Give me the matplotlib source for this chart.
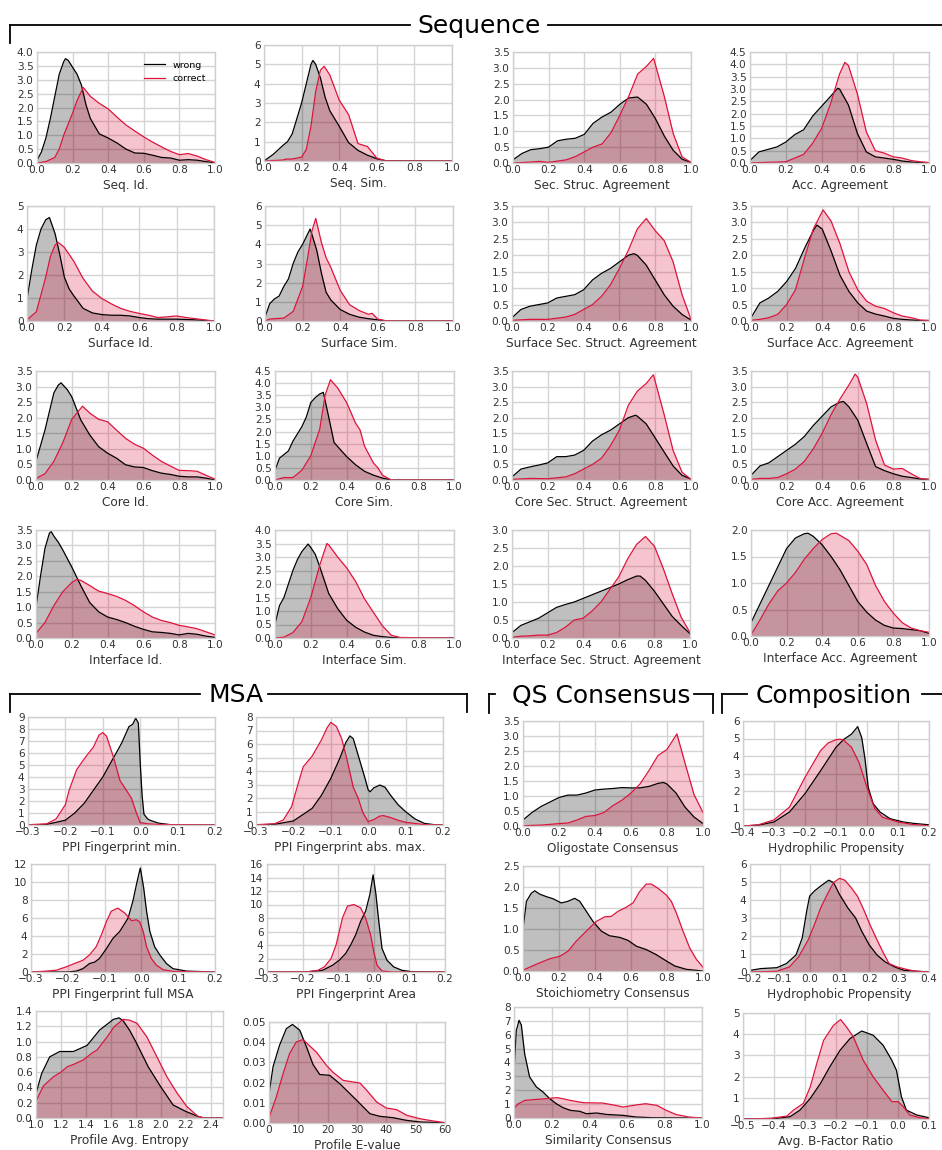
import numpy as np
import matplotlib.pyplot as plt
from matplotlib.lines import Line2D

# density curves, one list of (x, density) per feature and model class

# --- Sequence ---
seq_id_wrong = [(0, 0.1), (0.025, 0.4), (0.05, 0.9), (0.075, 1.6), (0.1, 2.4), (0.125, 3.2), (0.15, 3.65),
                (0.16, 3.76), (0.175, 3.7), (0.2, 3.45), (0.225, 3.2), (0.25, 2.8), (0.275, 2.1), (0.3, 1.6),
                (0.35, 1.05), (0.4, 0.9), (0.45, 0.72), (0.5, 0.5), (0.55, 0.36), (0.6, 0.35), (0.65, 0.28),
                (0.7, 0.2), (0.75, 0.18), (0.8, 0.1), (0.85, 0.12), (0.9, 0.1), (0.95, 0.05), (1.0, 0.0)]
seq_id_correct = [(0, 0), (0.05, 0.05), (0.1, 0.2), (0.125, 0.5), (0.15, 1.0), (0.175, 1.4), (0.2, 1.8),
                  (0.225, 2.25), (0.26, 2.72), (0.3, 2.4), (0.35, 2.15), (0.4, 1.95), (0.45, 1.65), (0.5, 1.37),
                  (0.55, 1.15), (0.6, 0.94), (0.65, 0.75), (0.7, 0.58), (0.75, 0.42), (0.8, 0.3), (0.85, 0.34),
                  (0.9, 0.25), (0.95, 0.12), (1.0, 0.02)]

seq_sim_wrong = [(0, 0), (0.05, 0.35), (0.1, 0.8), (0.125, 1.0), (0.15, 1.4), (0.2, 3.0), (0.225, 4.0),
                 (0.25, 5.0), (0.26, 5.2), (0.275, 5.0), (0.3, 4.3), (0.325, 3.3), (0.35, 2.6), (0.4, 1.8),
                 (0.45, 0.95), (0.5, 0.55), (0.55, 0.3), (0.6, 0.12), (0.65, 0.01), (1.0, 0)]
seq_sim_correct = [(0, 0), (0.1, 0.05), (0.12, 0.1), (0.15, 0.1), (0.2, 0.2), (0.225, 0.6), (0.25, 1.8),
                   (0.275, 3.6), (0.3, 4.7), (0.32, 4.9), (0.35, 4.45), (0.4, 3.15), (0.45, 2.4), (0.5, 0.9),
                   (0.55, 0.75), (0.6, 0.15), (0.65, 0.0), (1.0, 0)]

sec_struc_wrong = [(0, 0.1), (0.05, 0.3), (0.1, 0.42), (0.15, 0.45), (0.2, 0.5), (0.25, 0.7), (0.3, 0.75),
                   (0.35, 0.78), (0.4, 0.9), (0.45, 1.25), (0.5, 1.45), (0.55, 1.6), (0.6, 1.85), (0.65, 2.05),
                   (0.7, 2.08), (0.75, 1.85), (0.8, 1.4), (0.85, 0.85), (0.9, 0.4), (0.95, 0.12), (1.0, 0.02)]
sec_struc_correct = [(0, 0), (0.1, 0.03), (0.15, 0.05), (0.2, 0.02), (0.3, 0.1), (0.35, 0.2), (0.4, 0.35),
                     (0.45, 0.5), (0.5, 0.6), (0.55, 0.95), (0.6, 1.5), (0.65, 2.1), (0.7, 2.8), (0.75, 3.05),
                     (0.79, 3.3), (0.85, 2.1), (0.9, 0.93), (0.95, 0.19), (1.0, 0.02)]

acc_wrong = [(0, 0.1), (0.05, 0.45), (0.1, 0.55), (0.15, 0.65), (0.2, 0.85), (0.25, 1.15), (0.3, 1.35),
             (0.35, 1.9), (0.4, 2.3), (0.45, 2.7), (0.49, 3.03), (0.5, 3.0), (0.55, 2.35), (0.6, 1.2),
             (0.65, 0.45), (0.7, 0.25), (0.75, 0.2), (0.8, 0.15), (0.85, 0.08), (0.9, 0.04), (1.0, 0)]
acc_correct = [(0, 0), (0.1, 0.03), (0.2, 0.05), (0.25, 0.2), (0.3, 0.35), (0.35, 0.8), (0.4, 1.4),
               (0.45, 2.4), (0.5, 3.6), (0.53, 4.08), (0.55, 3.95), (0.6, 2.8), (0.65, 1.26), (0.7, 0.5),
               (0.75, 0.4), (0.8, 0.25), (0.85, 0.2), (0.9, 0.1), (0.95, 0.05), (1.0, 0.02)]

surf_id_wrong = [(0, 0.95), (0.025, 2.2), (0.05, 3.3), (0.075, 4.0), (0.1, 4.4), (0.12, 4.5), (0.15, 3.8),
                 (0.175, 2.9), (0.2, 1.9), (0.225, 1.4), (0.25, 1.1), (0.3, 0.55), (0.35, 0.35), (0.4, 0.28),
                 (0.45, 0.25), (0.5, 0.25), (0.55, 0.22), (0.6, 0.15), (0.65, 0.1), (0.7, 0.08), (0.8, 0.08),
                 (0.9, 0.05), (1.0, 0)]
surf_id_correct = [(0, 0.05), (0.05, 0.4), (0.1, 1.9), (0.125, 2.8), (0.15, 3.3), (0.167, 3.42), (0.2, 3.2),
                   (0.25, 2.6), (0.3, 1.85), (0.35, 1.3), (0.4, 0.98), (0.45, 0.75), (0.5, 0.55), (0.55, 0.42),
                   (0.6, 0.33), (0.65, 0.25), (0.7, 0.15), (0.75, 0.18), (0.8, 0.22), (0.85, 0.15), (0.9, 0.1),
                   (0.95, 0.05), (1.0, 0)]

surf_sim_wrong = [(0, 0.2), (0.025, 0.9), (0.05, 1.15), (0.075, 1.3), (0.1, 1.8), (0.125, 2.2), (0.15, 3.0),
                  (0.175, 3.6), (0.2, 4.0), (0.225, 4.5), (0.24, 4.8), (0.25, 4.5), (0.275, 3.7), (0.3, 2.5),
                  (0.325, 1.5), (0.35, 1.1), (0.4, 0.6), (0.45, 0.35), (0.5, 0.2), (0.55, 0.12), (0.6, 0.06),
                  (0.65, 0), (1.0, 0)]
surf_sim_correct = [(0, 0), (0.025, 0.1), (0.05, 0.12), (0.1, 0.15), (0.15, 0.5), (0.2, 1.8), (0.225, 3.2),
                    (0.25, 4.7), (0.27, 5.35), (0.3, 4.1), (0.325, 3.3), (0.35, 2.8), (0.4, 1.6), (0.45, 0.85),
                    (0.5, 0.55), (0.55, 0.35), (0.57, 0.4), (0.6, 0.1), (0.65, 0), (1.0, 0)]

surf_sec_wrong = [(0, 0.1), (0.05, 0.35), (0.1, 0.45), (0.15, 0.5), (0.2, 0.55), (0.25, 0.7), (0.3, 0.75),
                  (0.35, 0.8), (0.4, 0.95), (0.45, 1.25), (0.5, 1.45), (0.55, 1.6), (0.6, 1.8), (0.65, 2.0),
                  (0.68, 2.05), (0.7, 2.0), (0.75, 1.7), (0.8, 1.25), (0.85, 0.8), (0.9, 0.45), (0.95, 0.2),
                  (1.0, 0.03)]
surf_sec_correct = [(0, 0.02), (0.1, 0.05), (0.2, 0.05), (0.3, 0.12), (0.35, 0.2), (0.4, 0.35), (0.45, 0.5),
                    (0.5, 0.75), (0.55, 1.1), (0.6, 1.6), (0.65, 2.15), (0.7, 2.8), (0.75, 3.12), (0.8, 2.75),
                    (0.85, 2.45), (0.9, 1.8), (0.95, 0.8), (1.0, 0.05)]

surf_acc_wrong = [(0, 0.1), (0.05, 0.55), (0.1, 0.7), (0.15, 0.9), (0.2, 1.2), (0.25, 1.6), (0.3, 2.2),
                  (0.35, 2.75), (0.37, 2.92), (0.4, 2.8), (0.45, 2.13), (0.5, 1.39), (0.55, 0.9), (0.6, 0.55),
                  (0.65, 0.3), (0.7, 0.21), (0.75, 0.15), (0.8, 0.08), (0.85, 0.05), (0.9, 0.03), (1.0, 0)]
surf_acc_correct = [(0, 0.02), (0.05, 0.05), (0.1, 0.1), (0.15, 0.2), (0.2, 0.5), (0.25, 0.95), (0.3, 1.9),
                    (0.35, 2.8), (0.405, 3.38), (0.45, 3.04), (0.5, 2.35), (0.55, 1.5), (0.6, 0.95), (0.65, 0.6),
                    (0.7, 0.45), (0.75, 0.38), (0.8, 0.25), (0.85, 0.15), (0.9, 0.1), (0.95, 0.03), (1.0, 0.02)]

core_id_wrong = [(0, 0.6), (0.025, 1.1), (0.05, 1.6), (0.075, 2.2), (0.1, 2.8), (0.125, 3.05), (0.14, 3.12),
                 (0.175, 2.9), (0.2, 2.67), (0.25, 1.93), (0.3, 1.45), (0.35, 1.07), (0.4, 0.86), (0.45, 0.7),
                 (0.5, 0.49), (0.55, 0.42), (0.6, 0.4), (0.65, 0.3), (0.7, 0.22), (0.75, 0.18), (0.8, 0.12),
                 (0.85, 0.1), (0.9, 0.1), (0.95, 0.06), (1.0, 0)]
core_id_correct = [(0, 0.05), (0.05, 0.2), (0.1, 0.6), (0.15, 1.2), (0.2, 1.95), (0.26, 2.37), (0.3, 2.15),
                   (0.35, 1.95), (0.4, 1.87), (0.45, 1.6), (0.5, 1.34), (0.55, 1.15), (0.6, 1.02), (0.65, 0.8),
                   (0.7, 0.6), (0.75, 0.45), (0.8, 0.31), (0.85, 0.3), (0.9, 0.28), (0.95, 0.15), (1.0, 0.03)]

core_sim_wrong = [(0, 0.4), (0.025, 0.9), (0.05, 1.05), (0.075, 1.2), (0.1, 1.6), (0.125, 1.9), (0.15, 2.2),
                  (0.175, 2.6), (0.2, 3.2), (0.225, 3.4), (0.25, 3.55), (0.27, 3.62), (0.3, 2.6), (0.33, 1.55),
                  (0.35, 1.38), (0.4, 0.97), (0.45, 0.63), (0.5, 0.36), (0.55, 0.2), (0.6, 0.08), (0.65, 0),
                  (1.0, 0)]
core_sim_correct = [(0, 0), (0.05, 0.1), (0.1, 0.1), (0.15, 0.4), (0.2, 1.0), (0.25, 2.1), (0.28, 3.5),
                    (0.31, 4.14), (0.35, 3.8), (0.4, 3.2), (0.45, 2.35), (0.475, 2.07), (0.5, 1.4), (0.55, 0.7),
                    (0.575, 0.5), (0.6, 0.2), (0.65, 0), (1.0, 0)]

core_sec_wrong = [(0, 0.1), (0.05, 0.35), (0.1, 0.42), (0.15, 0.48), (0.2, 0.55), (0.25, 0.75), (0.3, 0.75),
                  (0.35, 0.8), (0.4, 0.95), (0.45, 1.25), (0.5, 1.45), (0.55, 1.6), (0.6, 1.8), (0.65, 2.0),
                  (0.69, 2.08), (0.7, 2.05), (0.75, 1.8), (0.8, 1.35), (0.85, 0.9), (0.9, 0.45), (0.95, 0.15),
                  (1.0, 0.03)]
core_sec_correct = [(0, 0.02), (0.1, 0.05), (0.2, 0.04), (0.3, 0.1), (0.35, 0.2), (0.4, 0.35), (0.45, 0.5),
                    (0.5, 0.7), (0.55, 1.1), (0.6, 1.6), (0.65, 2.4), (0.7, 2.85), (0.75, 3.1), (0.79, 3.38),
                    (0.85, 2.1), (0.9, 0.95), (0.95, 0.25), (1.0, 0.02)]

core_acc_wrong = [(0, 0.15), (0.05, 0.45), (0.1, 0.55), (0.15, 0.75), (0.2, 0.95), (0.25, 1.15), (0.3, 1.4),
                  (0.35, 1.75), (0.4, 2.05), (0.45, 2.35), (0.5, 2.5), (0.52, 2.52), (0.55, 2.35), (0.6, 1.92),
                  (0.65, 1.17), (0.7, 0.43), (0.75, 0.3), (0.8, 0.2), (0.85, 0.12), (0.9, 0.08), (0.95, 0.03),
                  (1.0, 0.02)]
core_acc_correct = [(0, 0.02), (0.05, 0.05), (0.1, 0.05), (0.15, 0.08), (0.2, 0.2), (0.25, 0.35), (0.3, 0.6),
                    (0.35, 1.0), (0.4, 1.5), (0.45, 2.1), (0.5, 2.6), (0.55, 3.05), (0.585, 3.4), (0.6, 3.3),
                    (0.65, 2.45), (0.7, 1.28), (0.75, 0.48), (0.8, 0.35), (0.85, 0.37), (0.9, 0.2), (0.95, 0.05),
                    (1.0, 0.02)]

intf_id_wrong = [(0, 1.0), (0.025, 2.0), (0.05, 2.9), (0.075, 3.4), (0.085, 3.45), (0.1, 3.3), (0.125, 3.1),
                 (0.15, 2.85), (0.2, 2.3), (0.25, 1.7), (0.3, 1.15), (0.35, 0.85), (0.4, 0.68), (0.45, 0.6),
                 (0.5, 0.5), (0.55, 0.38), (0.6, 0.28), (0.65, 0.2), (0.7, 0.18), (0.75, 0.15), (0.8, 0.1),
                 (0.85, 0.15), (0.9, 0.12), (0.95, 0.06), (1.0, 0.02)]
intf_id_correct = [(0, 0.15), (0.05, 0.5), (0.1, 1.05), (0.15, 1.5), (0.2, 1.8), (0.23, 1.9), (0.25, 1.87),
                   (0.3, 1.7), (0.35, 1.52), (0.4, 1.44), (0.45, 1.35), (0.5, 1.22), (0.55, 1.05), (0.6, 0.85),
                   (0.65, 0.68), (0.7, 0.57), (0.75, 0.5), (0.8, 0.41), (0.85, 0.36), (0.9, 0.3), (0.95, 0.2),
                   (1.0, 0.1)]

intf_sim_wrong = [(0, 0.5), (0.025, 1.2), (0.05, 1.5), (0.075, 2.0), (0.1, 2.5), (0.125, 2.9), (0.15, 3.2),
                  (0.185, 3.48), (0.2, 3.35), (0.225, 3.1), (0.25, 2.64), (0.3, 1.65), (0.35, 1.09), (0.4, 0.66),
                  (0.45, 0.4), (0.5, 0.22), (0.55, 0.1), (0.6, 0.05), (0.65, 0.02), (0.7, 0), (1.0, 0)]
intf_sim_correct = [(0, 0), (0.05, 0.03), (0.1, 0.2), (0.15, 0.6), (0.2, 1.5), (0.25, 2.7), (0.29, 3.5),
                    (0.3, 3.45), (0.35, 3.0), (0.4, 2.6), (0.45, 2.1), (0.5, 1.45), (0.55, 0.95), (0.6, 0.45),
                    (0.65, 0.1), (0.7, 0.02), (0.8, 0.01), (1.0, 0)]

intf_sec_wrong = [(0, 0.15), (0.05, 0.35), (0.1, 0.45), (0.15, 0.55), (0.2, 0.7), (0.25, 0.85), (0.3, 0.93),
                  (0.35, 1.0), (0.4, 1.1), (0.45, 1.2), (0.5, 1.3), (0.55, 1.4), (0.6, 1.5), (0.65, 1.62),
                  (0.7, 1.72), (0.72, 1.72), (0.75, 1.6), (0.8, 1.3), (0.85, 0.95), (0.9, 0.6), (0.95, 0.35),
                  (1.0, 0.12)]
intf_sec_correct = [(0, 0.02), (0.05, 0.05), (0.1, 0.06), (0.15, 0.08), (0.2, 0.08), (0.25, 0.15), (0.3, 0.3),
                    (0.35, 0.5), (0.4, 0.55), (0.45, 0.75), (0.5, 1.0), (0.55, 1.35), (0.6, 1.7), (0.65, 2.2),
                    (0.7, 2.6), (0.75, 2.82), (0.8, 2.55), (0.85, 1.93), (0.9, 1.23), (0.95, 0.58), (1.0, 0.15)]

intf_acc_wrong = [(0, 0.25), (0.05, 0.6), (0.1, 0.95), (0.15, 1.3), (0.2, 1.65), (0.25, 1.85), (0.3, 1.93),
                  (0.32, 1.94), (0.35, 1.88), (0.4, 1.72), (0.45, 1.5), (0.5, 1.25), (0.55, 0.95), (0.6, 0.65),
                  (0.65, 0.45), (0.7, 0.3), (0.75, 0.2), (0.8, 0.15), (0.85, 0.14), (0.9, 0.12), (0.95, 0.1),
                  (1.0, 0.05)]
intf_acc_correct = [(0, 0.02), (0.05, 0.3), (0.1, 0.6), (0.15, 0.85), (0.2, 1.0), (0.25, 1.2), (0.3, 1.45),
                    (0.35, 1.65), (0.4, 1.82), (0.45, 1.93), (0.48, 1.94), (0.5, 1.9), (0.55, 1.8), (0.6, 1.6),
                    (0.65, 1.35), (0.7, 0.95), (0.75, 0.65), (0.8, 0.43), (0.85, 0.25), (0.9, 0.15), (0.95, 0.1),
                    (1.0, 0.07)]

# --- MSA ---
ppi_min_wrong = [(-0.3, 0), (-0.25, 0.05), (-0.2, 0.4), (-0.175, 1.0), (-0.15, 1.8), (-0.125, 2.9), (-0.1, 4.0),
                 (-0.075, 5.4), (-0.05, 6.8), (-0.03, 8.2), (-0.02, 8.4), (-0.012, 8.9), (-0.005, 8.5),
                 (0.0, 5.2), (0.005, 2.5), (0.01, 0.9), (0.02, 0.5), (0.03, 0.35), (0.05, 0.15), (0.08, 0.03),
                 (0.1, 0.01), (0.2, 0)]
ppi_min_correct = [(-0.3, 0.02), (-0.25, 0.1), (-0.225, 0.5), (-0.2, 1.7), (-0.19, 2.9), (-0.17, 4.6),
                   (-0.15, 5.5), (-0.125, 6.5), (-0.11, 7.5), (-0.1, 7.7), (-0.09, 7.4), (-0.072, 5.7),
                   (-0.054, 3.7), (-0.037, 2.9), (-0.023, 2.2), (-0.01, 1.0), (0.0, 0.2), (0.02, 0.1),
                   (0.05, 0.05), (0.1, 0.02), (0.2, 0)]

ppi_absmax_wrong = [(-0.3, 0), (-0.25, 0.05), (-0.2, 0.3), (-0.15, 1.23), (-0.125, 2.2), (-0.1, 3.45),
                    (-0.075, 5.0), (-0.06, 6.1), (-0.049, 6.6), (-0.04, 6.4), (-0.025, 5.0), (-0.01, 3.6),
                    (0.0, 2.6), (0.005, 2.46), (0.015, 2.75), (0.031, 2.96), (0.045, 2.8), (0.06, 2.2),
                    (0.08, 1.5), (0.1, 0.99), (0.125, 0.45), (0.15, 0.12), (0.175, 0.03), (0.2, 0)]
ppi_absmax_correct = [(-0.3, 0.02), (-0.25, 0.1), (-0.227, 0.37), (-0.205, 1.35), (-0.19, 2.8), (-0.174, 4.3),
                      (-0.15, 5.1), (-0.125, 6.3), (-0.11, 7.2), (-0.1, 7.6), (-0.085, 7.3), (-0.071, 6.4),
                      (-0.058, 5.0), (-0.04, 2.8), (-0.027, 2.0), (-0.014, 0.9), (0.0, 0.25), (0.015, 0.4),
                      (0.03, 0.65), (0.04, 0.7), (0.06, 0.55), (0.08, 0.35), (0.1, 0.2), (0.15, 0.03), (0.2, 0)]

ppi_full_wrong = [(-0.3, 0), (-0.2, 0.0), (-0.177, 0.1), (-0.159, 0.37), (-0.141, 0.94), (-0.127, 1.1),
                  (-0.114, 1.5), (-0.095, 2.6), (-0.077, 3.75), (-0.059, 4.5), (-0.036, 6.0), (-0.023, 7.9),
                  (-0.012, 10.0), (-0.003, 11.55), (0.006, 9.4), (0.014, 6.75), (0.023, 4.5), (0.036, 2.8),
                  (0.05, 1.9), (0.068, 0.94), (0.086, 0.37), (0.123, 0.1), (0.2, 0)]
ppi_full_correct = [(-0.3, 0), (-0.268, 0.07), (-0.232, 0.19), (-0.205, 0.56), (-0.182, 0.94), (-0.159, 1.3),
                    (-0.141, 1.9), (-0.123, 2.8), (-0.109, 4.1), (-0.095, 5.6), (-0.082, 6.75), (-0.064, 7.1),
                    (-0.045, 6.55), (-0.027, 5.7), (-0.014, 5.8), (-0.005, 5.6), (0.005, 4.5), (0.014, 2.8),
                    (0.027, 1.5), (0.041, 0.75), (0.059, 0.26), (0.086, 0.07), (0.2, 0)]

ppi_area_wrong = [(-0.3, 0), (-0.19, 0.0), (-0.144, 0.25), (-0.116, 1.0), (-0.097, 1.75), (-0.079, 2.75),
                  (-0.065, 4.0), (-0.051, 5.5), (-0.037, 7.5), (-0.023, 9.0), (-0.011, 11.5), (-0.002, 14.4),
                  (0.006, 11.5), (0.014, 7.5), (0.023, 3.5), (0.037, 1.75), (0.056, 0.75), (0.079, 0.25),
                  (0.106, 0.05), (0.2, 0)]
ppi_area_correct = [(-0.3, 0), (-0.19, 0.02), (-0.157, 0.25), (-0.139, 0.75), (-0.12, 2.0), (-0.106, 4.0),
                    (-0.097, 6.0), (-0.088, 8.0), (-0.074, 9.75), (-0.056, 10.0), (-0.037, 9.5), (-0.023, 8.0),
                    (-0.009, 5.5), (0.0, 3.0), (0.009, 1.0), (0.023, 0.15), (0.051, 0), (0.2, 0)]

entropy_wrong = [(1.0, 0.32), (1.045, 0.58), (1.11, 0.8), (1.19, 0.87), (1.3, 0.87), (1.41, 0.95), (1.51, 1.15),
                 (1.62, 1.29), (1.666, 1.31), (1.7, 1.27), (1.75, 1.15), (1.8, 1.0), (1.9, 0.67), (2.0, 0.41),
                 (2.1, 0.17), (2.2, 0.087), (2.3, 0.02), (2.35, 0.0), (2.5, 0)]
entropy_correct = [(1.0, 0.22), (1.06, 0.42), (1.14, 0.54), (1.2, 0.6), (1.25, 0.67), (1.3, 0.7), (1.38, 0.76),
                   (1.45, 0.85), (1.49, 0.89), (1.57, 1.06), (1.63, 1.2), (1.7, 1.29), (1.75, 1.28), (1.81, 1.24),
                   (1.89, 1.06), (1.97, 0.8), (2.05, 0.54), (2.13, 0.33), (2.21, 0.15), (2.3, 0.02), (2.35, 0.0),
                   (2.5, 0)]

evalue_wrong = [(0, 0.0145), (1.4, 0.028), (3.6, 0.0385), (5.9, 0.0467), (8.0, 0.0488), (10.5, 0.0459),
                (12.8, 0.0376), (15, 0.029), (17.3, 0.024), (20.7, 0.0236), (24.1, 0.0195), (27.6, 0.0145),
                (31, 0.0096), (34.4, 0.0046), (37.8, 0.0033), (42.4, 0.0026), (46.9, 0.0013), (51.5, 0.0005),
                (60, 0.0001)]
evalue_correct = [(0, 0.0025), (2.5, 0.0129), (4.8, 0.0244), (7, 0.0343), (9.3, 0.0401), (11.6, 0.0413),
                  (16.2, 0.035), (19.6, 0.0285), (21.9, 0.025), (25.3, 0.0211), (28.7, 0.0203), (31, 0.0198),
                  (33.3, 0.0162), (36.7, 0.0104), (40, 0.0074), (43.5, 0.0066), (47, 0.0038), (51.5, 0.0021),
                  (56, 0.001), (60, 0.0002)]

# --- QS Consensus ---
oligo_wrong = [(0, 0.2), (0.05, 0.45), (0.1, 0.65), (0.15, 0.8), (0.2, 0.95), (0.25, 1.03), (0.3, 1.03),
               (0.35, 1.1), (0.4, 1.2), (0.45, 1.23), (0.5, 1.25), (0.55, 1.28), (0.6, 1.27), (0.65, 1.27),
               (0.7, 1.32), (0.75, 1.42), (0.78, 1.45), (0.8, 1.4), (0.85, 1.1), (0.9, 0.63), (0.95, 0.3),
               (1.0, 0.08)]
oligo_correct = [(0, 0.01), (0.1, 0.03), (0.2, 0.08), (0.25, 0.1), (0.3, 0.2), (0.35, 0.32), (0.4, 0.35),
                 (0.45, 0.45), (0.5, 0.68), (0.55, 0.86), (0.6, 1.1), (0.65, 1.4), (0.7, 1.85), (0.75, 2.35),
                 (0.8, 2.55), (0.855, 3.07), (0.9, 2.1), (0.95, 1.05), (1.0, 0.45)]

stoich_wrong = [(0, 0.99), (0.019, 1.66), (0.046, 1.85), (0.065, 1.91), (0.093, 1.83), (0.13, 1.77),
                (0.167, 1.72), (0.213, 1.62), (0.25, 1.66), (0.287, 1.73), (0.315, 1.66), (0.352, 1.42),
                (0.389, 1.18), (0.435, 0.95), (0.48, 0.84), (0.537, 0.8), (0.583, 0.73), (0.63, 0.59),
                (0.685, 0.51), (0.74, 0.39), (0.796, 0.24), (0.843, 0.12), (0.907, 0.04), (1.0, 0)]
stoich_correct = [(0, 0.02), (0.074, 0.16), (0.148, 0.29), (0.204, 0.35), (0.25, 0.47), (0.296, 0.71),
                  (0.352, 0.95), (0.407, 1.18), (0.454, 1.29), (0.49, 1.3), (0.528, 1.42), (0.574, 1.52),
                  (0.611, 1.62), (0.648, 1.89), (0.685, 2.07), (0.713, 2.07), (0.75, 1.97), (0.796, 1.81),
                  (0.824, 1.66), (0.852, 1.38), (0.889, 0.95), (0.926, 0.55), (0.963, 0.28), (1.0, 0.09)]

simil_wrong = [(0, 3.4), (0.012, 6.3), (0.027, 7.04), (0.039, 6.7), (0.057, 4.6), (0.083, 2.96), (0.119, 2.24),
               (0.154, 1.88), (0.19, 1.39), (0.225, 1.03), (0.26, 0.75), (0.3, 0.55), (0.35, 0.48),
               (0.385, 0.31), (0.44, 0.36), (0.49, 0.26), (0.58, 0.19), (0.65, 0.07), (0.74, 0.02), (1.0, 0)]
simil_correct = [(0, 0.67), (0.02, 1.0), (0.057, 1.27), (0.1, 1.32), (0.17, 1.39), (0.23, 1.47), (0.3, 1.27),
                 (0.37, 1.1), (0.47, 1.08), (0.54, 0.91), (0.58, 0.79), (0.65, 0.94), (0.7, 1.03), (0.76, 0.91),
                 (0.81, 0.55), (0.86, 0.26), (0.93, 0.07), (1.0, 0)]

# --- Composition ---
hphil_wrong = [(-0.4, 0), (-0.35, 0.05), (-0.3, 0.23), (-0.25, 0.8), (-0.2, 1.85), (-0.15, 3.15), (-0.1, 4.5),
               (-0.075, 4.95), (-0.05, 5.25), (-0.03, 5.68), (-0.017, 5.05), (-0.007, 3.9), (0.004, 2.2),
               (0.02, 1.27), (0.042, 0.8), (0.074, 0.42), (0.117, 0.23), (0.15, 0.15), (0.2, 0.07)]
hphil_correct = [(-0.4, 0), (-0.35, 0.07), (-0.3, 0.35), (-0.25, 1.08), (-0.2, 2.78), (-0.15, 4.3),
                 (-0.125, 4.75), (-0.1, 4.93), (-0.087, 4.96), (-0.075, 4.9), (-0.05, 4.5), (-0.025, 3.6),
                 (0.0, 2.2), (0.025, 1.0), (0.05, 0.5), (0.1, 0.23), (0.15, 0.08), (0.2, 0.02)]

hphob_wrong = [(-0.2, 0.09), (-0.163, 0.19), (-0.11, 0.24), (-0.078, 0.47), (-0.046, 0.94), (-0.025, 1.88),
               (-0.01, 3.38), (0.0, 4.22), (0.016, 4.5), (0.037, 4.78), (0.064, 5.1), (0.08, 4.97), (0.1, 4.31),
               (0.128, 3.56), (0.154, 3.0), (0.175, 2.25), (0.2, 1.5), (0.226, 0.94), (0.253, 0.56),
               (0.285, 0.28), (0.317, 0.09), (0.4, 0)]
hphob_correct = [(-0.2, 0.0), (-0.11, 0.04), (-0.068, 0.28), (-0.037, 0.84), (-0.005, 1.78), (0.016, 2.63),
                 (0.037, 3.56), (0.059, 4.31), (0.08, 4.97), (0.1, 5.2), (0.118, 5.1), (0.139, 4.69),
                 (0.16, 4.22), (0.181, 3.47), (0.202, 2.63), (0.223, 1.88), (0.245, 1.13), (0.266, 0.47),
                 (0.293, 0.28), (0.324, 0.15), (0.356, 0.04), (0.4, 0)]

bfac_wrong = [(-0.5, 0), (-0.39, 0.03), (-0.348, 0.11), (-0.316, 0.42), (-0.283, 0.97), (-0.25, 1.68),
              (-0.22, 2.46), (-0.187, 3.24), (-0.155, 3.79), (-0.117, 4.15), (-0.08, 3.95), (-0.048, 3.48),
              (-0.02, 2.77), (-0.005, 2.3), (0.011, 1.05), (0.027, 0.42), (0.06, 0.19), (0.1, 0.06)]
bfac_correct = [(-0.5, 0), (-0.41, 0.03), (-0.358, 0.14), (-0.337, 0.42), (-0.305, 0.74), (-0.283, 1.52),
                (-0.262, 2.62), (-0.24, 3.71), (-0.208, 4.42), (-0.185, 4.69), (-0.166, 4.34), (-0.144, 3.87),
                (-0.112, 2.77), (-0.08, 1.99), (-0.048, 1.36), (-0.02, 0.82), (0.0, 0.82), (0.017, 0.58),
                (0.038, 0.19), (0.07, 0.06), (0.1, 0.02)]

W, H = 942, 1150
plt.rcParams.update({
    "font.family": "DejaVu Sans",
    "axes.edgecolor": "#cfcfcf",
    "axes.linewidth": 1.0,
    "axes.grid": True,
    "axes.axisbelow": True,
    "grid.color": "#d4d4d4",
    "grid.linewidth": 1.0,
    "xtick.major.size": 0,
    "ytick.major.size": 0,
    "xtick.major.pad": 1.5,
    "ytick.major.pad": 2.5,
    "xtick.labelsize": 7.6,
    "ytick.labelsize": 7.6,
    "xtick.color": "#333333",
    "ytick.color": "#333333",
    "axes.labelcolor": "#333333",
    "axes.labelsize": 8.7,
    "axes.labelpad": 2.5,
})

fig = plt.figure(figsize=(W / 100, H / 100), dpi=100)

unit = (0, 1, 0.2)
ppi = (-0.3, 0.2, 0.1)
# label, wrong, correct, x range/step, y top/step, axes box in pixels (left, top, right, bottom)
panels = [
    ("Seq. Id.", seq_id_wrong, seq_id_correct, unit, (4, 0.5), (37, 52, 215, 163)),
    ("Seq. Sim.", seq_sim_wrong, seq_sim_correct, unit, (6, 1), (264, 45, 452, 161)),
    ("Sec. Struc. Agreement", sec_struc_wrong, sec_struc_correct, unit, (3.5, 0.5), (513, 52, 691, 163)),
    ("Acc. Agreement", acc_wrong, acc_correct, unit, (4.5, 0.5), (750, 52, 929, 163)),
    ("Surface Id.", surf_id_wrong, surf_id_correct, unit, (5, 1), (27, 206, 214, 321)),
    ("Surface Sim.", surf_sim_wrong, surf_sim_correct, unit, (6, 1), (265, 206, 453, 321)),
    ("Surface Sec. Struct. Agreement", surf_sec_wrong, surf_sec_correct, unit, (3.5, 0.5), (512, 206, 691, 321)),
    ("Surface Acc. Agreement", surf_acc_wrong, surf_acc_correct, unit, (3.5, 0.5), (751, 206, 929, 321)),
    ("Core Id.", core_id_wrong, core_id_correct, unit, (3.5, 0.5), (36, 371, 215, 480)),
    ("Core Sim.", core_sim_wrong, core_sim_correct, unit, (4.5, 0.5), (275, 371, 454, 480)),
    ("Core Sec. Struct. Agreement", core_sec_wrong, core_sec_correct, unit, (3.5, 0.5), (512, 371, 691, 480)),
    ("Core Acc. Agreement", core_acc_wrong, core_acc_correct, unit, (3.5, 0.5), (751, 371, 929, 480)),
    ("Interface Id.", intf_id_wrong, intf_id_correct, unit, (3.5, 0.5), (36, 530, 215, 638)),
    ("Interface Sim.", intf_sim_wrong, intf_sim_correct, unit, (4, 0.5), (275, 530, 454, 638)),
    ("Interface Sec. Struct. Agreement", intf_sec_wrong, intf_sec_correct, unit, (3, 0.5), (512, 530, 690, 638)),
    ("Interface Acc. Agreement", intf_acc_wrong, intf_acc_correct, unit, (2, 0.5), (751, 530, 929, 636)),
    ("PPI Fingerprint min.", ppi_min_wrong, ppi_min_correct, ppi, (9, 1), (28, 717, 215, 825)),
    ("PPI Fingerprint abs. max.", ppi_absmax_wrong, ppi_absmax_correct, ppi, (8, 1), (256, 717, 443, 825)),
    ("Oligostate Consensus", oligo_wrong, oligo_correct, unit, (3.5, 0.5), (523, 721, 703, 826)),
    ("Hydrophilic Propensity", hphil_wrong, hphil_correct, (-0.4, 0.2, 0.1), (6, 1), (743, 721, 929, 826)),
    ("PPI Fingerprint full MSA", ppi_full_wrong, ppi_full_correct, ppi, (12, 2), (31, 864, 215, 972)),
    ("PPI Fingerprint Area", ppi_area_wrong, ppi_area_correct, ppi, (16, 2), (267, 864, 445, 972)),
    ("Stoichiometry Consensus", stoich_wrong, stoich_correct, unit, (2.5, 0.5), (523, 866, 703, 971)),
    ("Hydrophobic Propensity", hphob_wrong, hphob_correct, (-0.2, 0.4, 0.1), (6, 1), (750, 864, 929, 972)),
    ("Profile Avg. Entropy", entropy_wrong, entropy_correct, (1.0, 2.4, 0.2), (1.4, 0.2), (36, 1011, 223, 1118)),
    ("Profile E-value", evalue_wrong, evalue_correct, (0, 60, 10), (0.05, 0.01), (269, 1022, 445, 1123)),
    ("Similarity Consensus", simil_wrong, simil_correct, unit, (8, 1), (514, 1007, 702, 1118)),
    ("Avg. B-Factor Ratio", bfac_wrong, bfac_correct, (-0.5, 0.1, 0.1), (5, 1), (743, 1013, 929, 1119)),
]

xlim_override = {"Profile Avg. Entropy": (1.0, 2.5)}

for i, (label, wrong, correct, (x0, x1, xs), (ytop, ys), (l, t, r, b)) in enumerate(panels):
    ax = fig.add_axes([l / W, 1 - b / H, (r - l) / W, (b - t) / H])
    for pts, col, name in ((wrong, "black", "wrong"), (correct, "crimson", "correct")):
        x, y = np.array(pts).T
        ax.fill_between(x, 0, y, color=col, alpha=0.25, lw=0)
        ax.plot(x, y, color=col, lw=0.9, label=name)
    ax.set_xlim(*xlim_override.get(label, (x0, x1)))
    ax.set_xticks(np.arange(x0, x1 + xs / 2, xs))
    ax.set_ylim(0, ytop)
    ax.set_yticks(np.arange(0, ytop + ys / 2, ys))
    ax.set_xlabel(label)
    for sp in ax.spines.values():
        sp.set_color("#cfcfcf")
    if i == 0:
        ax.legend(loc="upper right", frameon=False, fontsize=6.8, handlelength=2.3)


def hline(x0, x1, y):
    fig.add_artist(Line2D([x0 / W, x1 / W], [1 - y / H] * 2, color="black", lw=1.3))


def vtick(x, y0, y1):
    fig.add_artist(Line2D([x / W] * 2, [1 - y0 / H, 1 - y1 / H], color="black", lw=1.3))


def header(text, xc, baseline):
    fig.text(xc / W, 1 - baseline / H, text, ha="center", va="baseline", fontsize=18, color="black")


# section headers with bracket lines
hline(10, 410, 25)
hline(548, 942, 25)
vtick(10, 25, 43)
header("Sequence", 479, 33)

hline(10, 200, 694)
hline(268, 467, 694)
vtick(10, 694, 712)
vtick(467, 694, 712)
header("MSA", 236.5, 702)

hline(489, 495, 694)
hline(694, 713, 694)
vtick(489, 694, 713)
vtick(713, 694, 713)
header("QS Consensus", 601.5, 703)

hline(722, 747, 694)
hline(922, 942, 694)
vtick(722, 694, 713)
header("Composition", 834, 703)

fig.savefig("out.png", dpi=100)
